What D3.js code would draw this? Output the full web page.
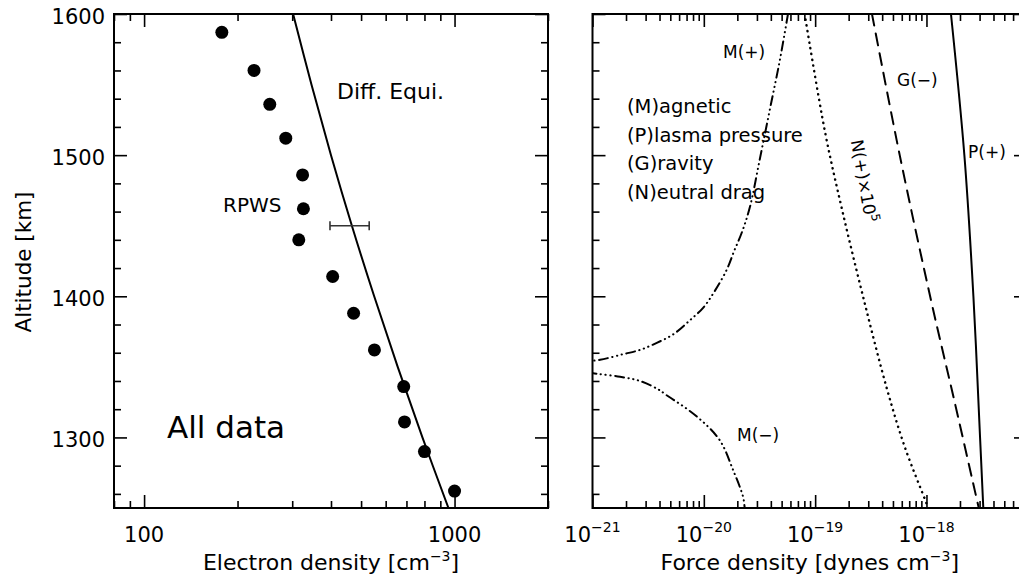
<!DOCTYPE html>
<html>
<head>
<meta charset="utf-8">
<script src="https://cdn.jsdelivr.net/npm/d3@7"></script>
<style>
body { margin: 0; background: #fff; }
text { font-family: "DejaVu Sans", sans-serif; fill: #000; }
</style>
</head>
<body>
<svg id="chart" width="1019" height="576"></svg>
<script>
// left panel: RPWS electron density vs altitude
var rpwsAlt  = [1587, 1560, 1536, 1512, 1486, 1462, 1440, 1414, 1388, 1362, 1336, 1311, 1290, 1262];
var rpwsDens = [178, 226, 254, 286, 324, 326, 315, 405, 473, 552, 686, 690, 800, 1000];
// diffusive equilibrium profile
var diffAlt  = [1600, 1550, 1500, 1450, 1400, 1350, 1300, 1250];
var diffDens = [302, 346, 400, 467, 551, 656, 788, 956];
// error bar
var errAlt = 1450, errLow = 397, errHigh = 531;

// right panel: force densities (dynes cm^-3)
var pAlt = [1600, 1500, 1400, 1300, 1250];
var pForce = [1.66e-18, 2.19e-18, 2.64e-18, 3.03e-18, 3.24e-18];
var gAlt = [1600, 1500, 1397, 1326, 1251];
var gForce = [3.24e-19, 5.75e-19, 1.10e-18, 1.78e-18, 2.93e-18];
var nAlt = [1600, 1516, 1461, 1397, 1334, 1293, 1256, 1248];
var nForce = [8.05e-20, 1.23e-19, 1.75e-19, 2.75e-19, 4.43e-19, 6.40e-19, 9.70e-19, 1.06e-18];
var mPlusAlt = [1600, 1567, 1532, 1497, 1463, 1445, 1432, 1419, 1404, 1392, 1383, 1373, 1367, 1362, 1359, 1355, 1354];
var mPlusForce = [5.70e-20, 4.81e-20, 3.91e-20, 3.18e-20, 2.59e-20, 2.19e-20, 1.87e-20, 1.61e-20, 1.26e-20,
                  9.9e-21, 7.5e-21, 5.3e-21, 3.78e-21, 2.67e-21, 1.89e-21, 1.17e-21, 0.9e-21];
var mMinusAlt = [1346, 1345, 1343, 1340, 1334, 1330, 1315, 1298, 1277, 1258, 1250, 1245];
var mMinusForce = [0.9e-21, 1.13e-21, 1.77e-21, 2.67e-21, 3.9e-21, 4.62e-21, 8.6e-21, 1.39e-20, 1.83e-20,
                   2.25e-20, 2.33e-20, 2.38e-20];

// tick values
var yMajor = [1300, 1400, 1500, 1600];
var yMinor = [1260, 1280, 1320, 1340, 1360, 1380, 1420, 1440, 1460, 1480, 1520, 1540, 1560, 1580];
var densMajor = [100, 1000];
var forceMajor = [1e-21, 1e-20, 1e-19, 1e-18];
var forceExp = ["\u221221", "\u221220", "\u221219", "\u221218"];

var svg = d3.select("#chart");
var top0 = 14, bot0 = 508;

var y = d3.scaleLinear().domain([1250, 1600]).range([bot0, top0]);
var xL = d3.scaleLog().domain([80, 2000]).range([114, 548]);
var xR = d3.scaleLog().domain([1e-21, 8e-18]).range([592.5, 1027]);

var defs = svg.append("defs");
function clip(id, x) {
    defs.append("clipPath").attr("id", id).append("rect")
        .attr("x", x.range()[0]).attr("y", top0)
        .attr("width", x.range()[1] - x.range()[0]).attr("height", bot0 - top0);
}
clip("clipL", xL);
clip("clipR", xR);

// frame with ticks on all four sides, pointing inwards
function frame(x, majors) {
    var g = svg.append("g");
    var minors = x.ticks().filter(function (d) { return majors.indexOf(d) < 0; });
    var x0 = x.range()[0], x1 = x.range()[1];
    var axes = [
        [d3.axisBottom(x).tickValues(majors).tickSize(-13), "translate(0," + bot0 + ")"],
        [d3.axisBottom(x).tickValues(minors).tickSize(-7), "translate(0," + bot0 + ")"],
        [d3.axisTop(x).tickValues(majors).tickSize(-13), "translate(0," + top0 + ")"],
        [d3.axisTop(x).tickValues(minors).tickSize(-7), "translate(0," + top0 + ")"],
        [d3.axisLeft(y).tickValues(yMajor).tickSize(-13), "translate(" + x0 + ",0)"],
        [d3.axisLeft(y).tickValues(yMinor).tickSize(-7), "translate(" + x0 + ",0)"],
        [d3.axisRight(y).tickValues(yMajor).tickSize(-13), "translate(" + x1 + ",0)"],
        [d3.axisRight(y).tickValues(yMinor).tickSize(-7), "translate(" + x1 + ",0)"]
    ];
    axes.forEach(function (a) {
        var ax = g.append("g").attr("transform", a[1]).call(a[0].tickFormat(""));
        ax.select(".domain").remove();
        ax.selectAll("line").attr("stroke", "#000").attr("stroke-width", 1.6);
    });
    g.append("rect")
        .attr("x", x0).attr("y", top0)
        .attr("width", x1 - x0).attr("height", bot0 - top0)
        .attr("fill", "none").attr("stroke", "#000").attr("stroke-width", 2);
}
frame(xL, densMajor);
frame(xR, forceMajor);

// y tick labels (left panel only)
svg.append("g").selectAll("text").data(yMajor).enter().append("text")
    .attr("x", 105).attr("y", function (d) { return y(d) + 10; })
    .attr("text-anchor", "end").attr("font-size", 21)
    .text(function (d) { return d; });

svg.append("text")
    .attr("transform", "translate(31,262) rotate(-90)")
    .attr("text-anchor", "middle").attr("font-size", 21.5)
    .text("Altitude [km]");

// x tick labels
svg.append("g").selectAll("text").data(densMajor).enter().append("text")
    .attr("x", function (d) { return xL(d); }).attr("y", 542)
    .attr("text-anchor", "middle").attr("font-size", 21)
    .text(function (d) { return d; });

var fl = svg.append("g").selectAll("text").data(forceMajor).enter().append("text")
    .attr("x", function (d) { return xR(d); }).attr("y", 542)
    .attr("text-anchor", "middle").attr("font-size", 21);
fl.append("tspan").text("10");
fl.append("tspan").attr("dy", -10).attr("font-size", 14)
    .text(function (d, i) { return forceExp[i]; });

// axis titles with cm^-3 superscript
function axisTitle(x, label) {
    var t = svg.append("text")
        .attr("x", (x.range()[0] + x.range()[1]) / 2).attr("y", 570)
        .attr("text-anchor", "middle").attr("font-size", 22);
    t.append("tspan").text(label);
    t.append("tspan").attr("dy", -9).attr("font-size", 14).text("\u22123");
    t.append("tspan").attr("dy", 9).text("]");
}
axisTitle(xL, "Electron density [cm");
axisTitle(xR, "Force density [dynes cm");

// ---- left panel marks ----
var gl = svg.append("g").attr("clip-path", "url(#clipL)");

var diffLine = d3.line()
    .x(function (d, i) { return xL(diffDens[i]); })
    .y(function (d) { return y(d); })
    .curve(d3.curveCatmullRom);
gl.append("path").datum(diffAlt).attr("d", diffLine)
    .attr("fill", "none").attr("stroke", "#000").attr("stroke-width", 2);

gl.selectAll("circle").data(rpwsAlt).enter().append("circle")
    .attr("cx", function (d, i) { return xL(rpwsDens[i]); })
    .attr("cy", function (d) { return y(d); })
    .attr("r", 6.5).attr("fill", "#000");

var eb = gl.append("g").attr("stroke", "#333").attr("stroke-width", 1.6);
eb.append("line").attr("x1", xL(errLow)).attr("x2", xL(errHigh))
    .attr("y1", y(errAlt)).attr("y2", y(errAlt));
[errLow, errHigh].forEach(function (v) {
    eb.append("line").attr("x1", xL(v)).attr("x2", xL(v))
        .attr("y1", y(errAlt) - 4.5).attr("y2", y(errAlt) + 4.5);
});

svg.append("text").attr("x", 337).attr("y", 99).attr("font-size", 22).text("Diff. Equi.");
svg.append("text").attr("x", 223).attr("y", 212).attr("font-size", 20).text("RPWS");
svg.append("text").attr("x", 167).attr("y", 438).attr("font-size", 31).text("All data");

// ---- right panel marks ----
var gr = svg.append("g").attr("clip-path", "url(#clipR)");

function forceLine(alts, vals, dash, width) {
    var line = d3.line()
        .x(function (d, i) { return xR(vals[i]); })
        .y(function (d) { return y(d); })
        .curve(d3.curveCatmullRom);
    gr.append("path").datum(alts).attr("d", line)
        .attr("fill", "none").attr("stroke", "#000")
        .attr("stroke-width", width)
        .attr("stroke-linecap", dash ? "round" : "butt")
        .attr("stroke-dasharray", dash);
}
var dashDots = "9,4.5,0.3,4.5,0.3,4.5,0.3,4.5";
forceLine(pAlt, pForce, null, 2);
forceLine(gAlt, gForce, "12,8", 2);
forceLine(nAlt, nForce, "0.3,5.5", 2.4);
forceLine(mPlusAlt, mPlusForce, dashDots, 2);
forceLine(mMinusAlt, mMinusForce, dashDots, 2);

svg.append("text").attr("x", 723).attr("y", 58).attr("font-size", 17).text("M(+)");
svg.append("text").attr("x", 897).attr("y", 86).attr("font-size", 17).text("G(\u2212)");
svg.append("text").attr("x", 968).attr("y", 158).attr("font-size", 17).text("P(+)");
svg.append("text").attr("x", 737).attr("y", 441).attr("font-size", 17).text("M(\u2212)");

var nl = svg.append("text")
    .attr("transform", "translate(864,181) rotate(80)")
    .attr("text-anchor", "middle").attr("dy", "0.35em").attr("font-size", 17);
nl.append("tspan").text("N(+)\u00d710");
nl.append("tspan").attr("dy", -7).attr("font-size", 12).text("5");

var legend = ["(M)agnetic", "(P)lasma pressure", "(G)ravity", "(N)eutral drag"];
svg.append("g").selectAll("text").data(legend).enter().append("text")
    .attr("x", 627).attr("y", function (d, i) { return 113 + i * 28.5; })
    .attr("font-size", 19.5)
    .text(function (d) { return d; });
</script>
</body>
</html>
